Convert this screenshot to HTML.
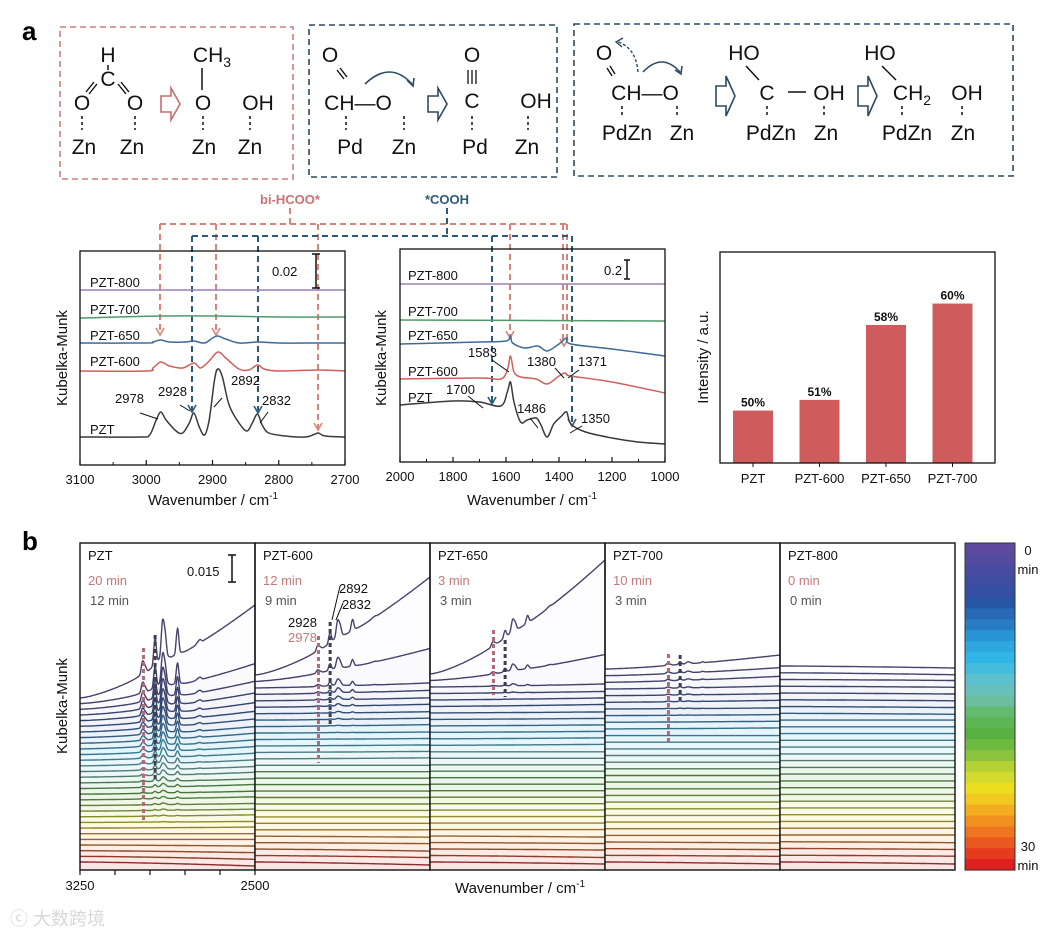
<!DOCTYPE html>
<html><head><meta charset="utf-8"><style>
html,body{margin:0;padding:0;background:#fff;}
svg{display:block;font-family:"Liberation Sans",sans-serif;}
</style></head><body>
<svg id="fig" width="1040" height="939" viewBox="0 0 1040 939" xmlns="http://www.w3.org/2000/svg">
<rect x="0" y="0" width="1040" height="939" fill="#fff"/>
<text x="22" y="40" font-size="26" font-weight="bold">a</text>
<text x="22" y="550" font-size="26" font-weight="bold">b</text>

<!-- Scheme 1 -->
<g font-size="21" text-anchor="middle" fill="#111">
<rect x="60" y="27" width="233" height="152" fill="none" stroke="#c98080" stroke-width="1.6" stroke-dasharray="6,4"/>
<text x="108" y="62">H</text><line x1="108" y1="65" x2="108" y2="70" stroke="#111" stroke-width="1.5"/>
<text x="108" y="86">C</text>
<line x1="86" y1="92" x2="94" y2="82" stroke="#111" stroke-width="1.4"/><line x1="89" y1="94" x2="97" y2="84" stroke="#111" stroke-width="1.4"/>
<line x1="121" y1="82" x2="129" y2="92" stroke="#111" stroke-width="1.4"/><line x1="118" y1="84" x2="126" y2="94" stroke="#111" stroke-width="1.4"/>
<text x="82" y="110">O</text><text x="135" y="110">O</text>
<line x1="82" y1="116" x2="82" y2="130" stroke="#111" stroke-width="1.5" stroke-dasharray="3,3"/>
<line x1="135" y1="116" x2="135" y2="130" stroke="#111" stroke-width="1.5" stroke-dasharray="3,3"/>
<text x="84" y="154">Zn</text><text x="132" y="154">Zn</text>
<path d="M161,96 L171,96 L171,88 L180,104 L171,120 L171,112 L161,112 Z" fill="none" stroke="#c96b6b" stroke-width="1.6"/>
<text x="212" y="62">CH<tspan font-size="14" dy="5">3</tspan></text>
<line x1="202" y1="68" x2="202" y2="90" stroke="#111" stroke-width="1.5"/>
<text x="203" y="110">O</text><text x="258" y="110">OH</text>
<line x1="203" y1="116" x2="203" y2="130" stroke="#111" stroke-width="1.5" stroke-dasharray="3,3"/>
<line x1="250" y1="116" x2="250" y2="130" stroke="#111" stroke-width="1.5" stroke-dasharray="3,3"/>
<text x="204" y="154">Zn</text><text x="250" y="154">Zn</text>
</g>

<!-- Scheme 2 -->
<g font-size="21" text-anchor="middle" fill="#111">
<rect x="309" y="25" width="248" height="152" fill="none" stroke="#2c4a62" stroke-width="1.6" stroke-dasharray="6,4"/>
<text x="330" y="62">O</text>
<line x1="337" y1="70" x2="344" y2="79" stroke="#111" stroke-width="1.4"/><line x1="340" y1="68" x2="347" y2="77" stroke="#111" stroke-width="1.4"/>
<text x="358" y="110">CH—O</text>
<path d="M365,84 Q390,60 412,84" fill="none" stroke="#2c4a62" stroke-width="1.6"/>
<path d="M407,80 L413,86 L414,78" fill="none" stroke="#2c4a62" stroke-width="1.6"/>
<line x1="346" y1="116" x2="346" y2="130" stroke="#111" stroke-width="1.5" stroke-dasharray="3,3"/>
<line x1="404" y1="116" x2="404" y2="130" stroke="#111" stroke-width="1.5" stroke-dasharray="3,3"/>
<text x="350" y="154">Pd</text><text x="404" y="154">Zn</text>
<path d="M428,96 L438,96 L438,88 L447,104 L438,120 L438,112 L428,112 Z" fill="none" stroke="#2c4a62" stroke-width="1.6"/>
<text x="472" y="62">O</text>
<line x1="468" y1="70" x2="468" y2="84" stroke="#111" stroke-width="1.3"/><line x1="472" y1="70" x2="472" y2="84" stroke="#111" stroke-width="1.3"/><line x1="476" y1="70" x2="476" y2="84" stroke="#111" stroke-width="1.3"/>
<text x="472" y="108">C</text>
<line x1="472" y1="116" x2="472" y2="130" stroke="#111" stroke-width="1.5" stroke-dasharray="3,3"/>
<text x="475" y="154">Pd</text>
<text x="536" y="108">OH</text>
<line x1="528" y1="116" x2="528" y2="130" stroke="#111" stroke-width="1.5" stroke-dasharray="3,3"/>
<text x="527" y="154">Zn</text>
</g>

<!-- Scheme 3 -->
<g font-size="21" text-anchor="middle" fill="#111">
<rect x="574" y="24" width="439" height="152" fill="none" stroke="#2c4a62" stroke-width="1.6" stroke-dasharray="6,4"/>
<text x="604" y="60">O</text>
<line x1="607" y1="68" x2="612" y2="76" stroke="#111" stroke-width="1.4"/><line x1="610" y1="66" x2="615" y2="74" stroke="#111" stroke-width="1.4"/>
<text x="645" y="100">CH—O</text>
<path d="M638,72 Q636,48 618,42" fill="none" stroke="#2c4a62" stroke-width="1.4" stroke-dasharray="3,2"/>
<path d="M623,38 L616,42 L622,47" fill="none" stroke="#2c4a62" stroke-width="1.4"/>
<path d="M643,72 Q662,52 680,72" fill="none" stroke="#2c4a62" stroke-width="1.6"/>
<path d="M675,70 L681,74 L682,66" fill="none" stroke="#2c4a62" stroke-width="1.6"/>
<line x1="622" y1="106" x2="622" y2="118" stroke="#111" stroke-width="1.5" stroke-dasharray="3,3"/>
<line x1="677" y1="106" x2="677" y2="118" stroke="#111" stroke-width="1.5" stroke-dasharray="3,3"/>
<text x="627" y="140">PdZn</text><text x="682" y="140">Zn</text>
<path d="M716,86 L726,86 L726,76 L735,96 L726,116 L726,106 L716,106 Z" fill="none" stroke="#2c4a62" stroke-width="1.6"/>
<text x="744" y="60">HO</text>
<line x1="746" y1="66" x2="759" y2="80" stroke="#111" stroke-width="1.5"/>
<text x="767" y="100">C</text>
<line x1="788" y1="92" x2="806" y2="92" stroke="#111" stroke-width="1.5"/>
<text x="829" y="100">OH</text>
<line x1="767" y1="106" x2="767" y2="118" stroke="#111" stroke-width="1.5" stroke-dasharray="3,3"/>
<line x1="824" y1="106" x2="824" y2="118" stroke="#111" stroke-width="1.5" stroke-dasharray="3,3"/>
<text x="771" y="140">PdZn</text><text x="826" y="140">Zn</text>
<path d="M858,86 L868,86 L868,76 L877,96 L868,116 L868,106 L858,106 Z" fill="none" stroke="#2c4a62" stroke-width="1.6"/>
<text x="880" y="60">HO</text>
<line x1="882" y1="66" x2="896" y2="80" stroke="#111" stroke-width="1.5"/>
<text x="912" y="100">CH<tspan font-size="14" dy="5">2</tspan></text>
<text x="967" y="100">OH</text>
<line x1="902" y1="106" x2="902" y2="118" stroke="#111" stroke-width="1.5" stroke-dasharray="3,3"/>
<line x1="962" y1="106" x2="962" y2="118" stroke="#111" stroke-width="1.5" stroke-dasharray="3,3"/>
<text x="907" y="140">PdZn</text><text x="963" y="140">Zn</text>
</g>

<!-- connectors -->
<text x="290" y="204" font-size="13" font-weight="bold" fill="#d07070" text-anchor="middle">bi-HCOO*</text>
<text x="447" y="204" font-size="13" font-weight="bold" fill="#2c5a78" text-anchor="middle">*COOH</text>
<g id="connectors"></g>

<g id="chartA"></g>
<g id="chartB"></g>
<g id="chartC"></g>
<g id="chartD"></g>

<text x="10" y="925" font-size="18" fill="#d8d8d8" font-family="Liberation Sans, Noto Sans CJK SC, sans-serif">ⓒ 大数跨境</text>
</svg>
<script>
// ---------- data: chart A (C-H region) ----------
const seriesA_names = ["PZT-800","PZT-700","PZT-650","PZT-600","PZT"];
const seriesA_pzt800 = [[3100,175],[2700,175]];
const seriesA_pzt700 = [[3100,147],[2978,149],[2892,149],[2800,148],[2700,148]];
const seriesA_pzt650 = [[3100,122],[3000,122],[2990,123],[2978,125],[2965,123],[2940,123],[2928,124],[2912,122],[2900,127],[2892,129],[2880,126],[2860,122],[2832,123],[2800,122],[2740,122],[2700,122]];
const seriesA_pzt600 = [[3100,94],[3000,94],[2990,97],[2978,103],[2965,99],[2945,97],[2928,102],[2918,97],[2905,104],[2892,113],[2880,107],[2860,96],[2845,95],[2832,100],[2822,96],[2800,94],[2740,95],[2700,94]];
const seriesA_pzt = [[3100,28],[3010,28],[2995,30],[2985,45],[2978,53],[2970,45],[2955,34],[2945,32],[2935,42],[2928,52],[2920,38],[2912,30],[2905,45],[2897,85],[2892,96],[2885,88],[2875,60],[2860,42],[2848,34],[2840,42],[2832,51],[2825,40],[2815,32],[2790,29],[2760,28],[2745,31],[2740,32],[2730,29],[2700,28]];
const ticksA = [3100,3000,2900,2800,2700];
const peakLabelsA = ["2978","2928","2892","2832"];

// ---------- data: chart B (fingerprint) ----------
const seriesB_pzt800 = [[2000,178],[1000,178]];
const seriesB_pzt700 = [[2000,142],[1000,141]];
const seriesB_pzt650 = [[2000,118],[1700,120],[1600,121],[1583,126],[1575,119],[1530,114],[1480,116],[1445,111],[1400,118],[1371,124],[1355,118],[1200,113],[1000,106]];
const seriesB_pzt600 = [[2000,83],[1700,84],[1620,83],[1595,92],[1583,106],[1570,90],[1545,85],[1486,83],[1445,78],[1400,86],[1380,89],[1371,88],[1355,86],[1200,80],[1000,69]];
const seriesB_pzt = [[2000,57],[1800,61],[1700,60],[1620,56],[1595,70],[1583,80],[1570,60],[1545,40],[1520,42],[1486,44],[1470,38],[1445,25],[1420,38],[1390,46],[1371,50],[1355,38],[1300,30],[1200,24],[1100,20],[1000,18]];
const ticksB = [2000,1800,1600,1400,1200,1000];

// ---------- data: chart C (bars) ----------
const barCategories = ["PZT","PZT-600","PZT-650","PZT-700"];
const barValues = [50,51,58,60];
const barLabels = ["50%","51%","58%","60%"];

// ---------- data: chart D (time-resolved) ----------
const panelNames = ["PZT","PZT-600","PZT-650","PZT-700","PZT-800"];
const panelRedTimes = ["20 min","12 min","3 min","10 min","0 min"];
const panelBlackTimes = ["12 min","9 min","3 min","3 min","0 min"];
const peakCenters = [2978,2928,2892,2832,2740];
const peaksPZT = [24,30,62,28,6];
const peaks600 = [10,12,28,12,2];
const peaks650 = [8,8,20,8,2];
const peaks700 = [4,3,3,1,0];
const peaks800 = [0,0,0,0,0];
const topPZT = 698, top600 = 675, top650 = 674, top700 = 669, top800 = 666;
const tiltPZT = [93,40,28,22,18,15,13,11,10,9,8,7,6,5,5,4,4,3,3,2,2,2,1,1,0,0,-1,-2,-3,-4];
const tilt600 = [98,33,5,4,3,3,2,2,2,1,1,1,1,1,0,0,0,0,0,0,0,0,0,0,0,-1,-1,-2,-2,-3];
const tilt650 = [114,26,3,2,2,2,1,1,1,1,1,1,0,0,0,0,0,0,0,0,0,0,0,0,0,-1,-1,-1,-2,-2];
const tilt700 = [14,8,6,3,2,2,1,1,1,1,0,0,0,0,0,0,0,0,0,0,0,0,0,0,0,0,-1,-1,-1,-2];
const tilt800 = [-2,-2,-1,-1,-1,-1,-1,-1,0,0,0,0,0,0,0,0,0,0,0,0,0,0,0,0,0,0,-1,-1,-1,-2];
const ampPZT = [1,.8,.7,.62,.55,.5,.45,.4,.35,.3,.26,.22,.18,.15,.12,.1,.08,.06,.05,.04,.03,.02,.01,0,0,0,0,0,0,0];
const amp600 = [1,.6,.35,.25,.18,.12,.08,.05,.03,.02,.01,0,0,0,0,0,0,0,0,0,0,0,0,0,0,0,0,0,0,0];
const amp650 = [1,.5,.15,.05,.02,0,0,0,0,0,0,0,0,0,0,0,0,0,0,0,0,0,0,0,0,0,0,0,0,0];
const amp700 = [1,.8,.6,.5,.4,.3,.2,.1,0,0,0,0,0,0,0,0,0,0,0,0,0,0,0,0,0,0,0,0,0,0];
const amp800 = [0,0,0,0,0,0,0,0,0,0,0,0,0,0,0,0,0,0,0,0,0,0,0,0,0,0,0,0,0,0];
const colorStops = ["#5e4a9c","#4a4ca0","#3b4da0","#2856a8","#2878c0","#2aa0dc","#30b8e8","#5cc0d0","#70c0b0","#60b860","#58b040","#80c040","#c8d830","#f0e020","#f5b020","#f08020","#e85020","#e02020"];

const NS = "http://www.w3.org/2000/svg";
function mk(parent, tag, attrs, text){
  const e = document.createElementNS(NS, tag);
  for (const k in attrs) e.setAttribute(k, attrs[k]);
  if (text !== undefined) e.textContent = text;
  parent.appendChild(e);
  return e;
}
function hex(c){return [parseInt(c.slice(1,3),16),parseInt(c.slice(3,5),16),parseInt(c.slice(5,7),16)];}
function rgb(a){return "rgb("+a.map(v=>Math.round(v)).join(",")+")";}
function mix(a,b,t){return a.map((v,i)=>v*(1-t)+b[i]*t);}
function cmap(f){
  const n = colorStops.length-1; const p=f*n; const i=Math.min(n-1,Math.floor(p)); const t=p-i;
  return mix(hex(colorStops[i]),hex(colorStops[i+1]),t);
}
function smoothPath(pts){
  let d = "M"+pts[0][0].toFixed(1)+","+pts[0][1].toFixed(1);
  for (let i=0;i<pts.length-1;i++){
    const p0=pts[Math.max(0,i-1)],p1=pts[i],p2=pts[i+1],p3=pts[Math.min(pts.length-1,i+2)];
    const c1=[p1[0]+(p2[0]-p0[0])/6,p1[1]+(p2[1]-p0[1])/6];
    const c2=[p2[0]-(p3[0]-p1[0])/6,p2[1]-(p3[1]-p1[1])/6];
    d+=" C"+c1[0].toFixed(1)+","+c1[1].toFixed(1)+" "+c2[0].toFixed(1)+","+c2[1].toFixed(1)+" "+p2[0].toFixed(1)+","+p2[1].toFixed(1);
  }
  return d;
}
function frameAxes(g, x0,y0,x1,y1, ticks, xf, name){
  const r = mk(g,"rect",{x:x0,y:y0,width:x1-x0,height:y1-y0,fill:"none",stroke:"#111","stroke-width":1.3});
  
  
  ticks.forEach((t,i)=>{
    const x = xf(t);
    const tk = mk(g,"line",{x1:x,y1:y1,x2:x,y2:y1-5,stroke:"#111","stroke-width":1.2});
    
    
    const lb = mk(g,"text",{x:x,y:y1+19,"font-size":13,"text-anchor":"middle",fill:"#111"},String(t));
    
    
    if (i<ticks.length-1){
      const xm = xf((t+ticks[i+1])/2);
      const mt = mk(g,"line",{x1:xm,y1:y1,x2:xm,y2:y1-3,stroke:"#111","stroke-width":1});
      
      
    }
  });
}
function axisTitle(g,x,y,name){
  const t = mk(g,"text",{x:x,y:y,"font-size":15,"text-anchor":"middle",fill:"#111"});
  
  
  t.innerHTML = 'Wavenumber / cm<tspan dy="-6" font-size="10">-1</tspan>';
}
function yTitle(g,x,y,txt,name){
  const t = mk(g,"text",{x:x,y:y,"font-size":15,"text-anchor":"middle",fill:"#111",transform:"rotate(-90 "+x+" "+y+")"},txt);
  
  
}

// ---------- chart A ----------
(function(){
  const g = document.getElementById("chartA");
  const xA = w => 80 + (3100-w)/400*265;
  const yA = v => 465 - v;
  const series = [seriesA_pzt800,seriesA_pzt700,seriesA_pzt650,seriesA_pzt600,seriesA_pzt];
  const colors = ["#9b7fb8","#4f9a6a","#3e6a96","#d0605a","#3a3a3a"];
  const labelY = [287,314,340,366,434];
  series.forEach((s,i)=>{
    const p = mk(g,"path",{d:smoothPath(s.map(q=>[xA(q[0]),yA(q[1])])),fill:"none",stroke:colors[i],"stroke-width":1.5});
    
    
    const t = mk(g,"text",{x:90,y:labelY[i],"font-size":13,fill:"#111"},seriesA_names[i]);
    
    
  });
  frameAxes(g,80,251,345,465,ticksA,xA,"chart-a");
  axisTitle(g,213,505,"chart-a-x-title");
  yTitle(g,67,358,"Kubelka-Munk","chart-a-y-title");
  const sb = mk(g,"path",{d:"M316,254 L316,288 M312,254 L320,254 M312,288 L320,288",stroke:"#111","stroke-width":1.5,fill:"none"});
  
  
  const st = mk(g,"text",{x:272,y:276,"font-size":13,fill:"#111"},"0.02");
  
  
  const lbls = [[115,403,"2978",[140,413,158,419]],[158,396,"2928",[180,405,190,411]],[231,385,"2892",[222,398,214,407]],[262,405,"2832",[268,412,260,423]]];
  lbls.forEach((l,i)=>{
    const t = mk(g,"text",{x:l[0],y:l[1],"font-size":13,fill:"#111"},peakLabelsA[i]);
    
    
    const ln = mk(g,"line",{x1:l[3][0],y1:l[3][1],x2:l[3][2],y2:l[3][3],stroke:"#111","stroke-width":1});
    
    
  });
})();

// ---------- chart B ----------
(function(){
  const g = document.getElementById("chartB");
  const xB = w => 400 + (2000-w)/1000*265;
  const yB = v => 462 - v;
  const series = [seriesB_pzt800,seriesB_pzt700,seriesB_pzt650,seriesB_pzt600,seriesB_pzt];
  const colors = ["#9b7fb8","#4f9a6a","#3e6a96","#d0605a","#3a3a3a"];
  const labelY = [280,316,340,376,402];
  series.forEach((s,i)=>{
    const p = mk(g,"path",{d:smoothPath(s.map(q=>[xB(q[0]),yB(q[1])])),fill:"none",stroke:colors[i],"stroke-width":1.5});
    
    
    const t = mk(g,"text",{x:408,y:labelY[i],"font-size":13,fill:"#111"},seriesA_names[i]);
    
    
  });
  frameAxes(g,400,249,665,462,ticksB,xB,"chart-b");
  axisTitle(g,532,505,"chart-b-x-title");
  yTitle(g,386,358,"Kubelka-Munk","chart-b-y-title");
  const sb = mk(g,"path",{d:"M627,260 L627,279 M624,260 L630,260 M624,279 L630,279",stroke:"#111","stroke-width":1.5,fill:"none"});
  
  
  const st = mk(g,"text",{x:604,y:275,"font-size":13,fill:"#111"},"0.2");
  
  
  const lbls = [[468,357,"1583",[492,360,509,372]],[527,366,"1380",[555,368,564,378]],[578,366,"1371",[579,370,568,378]],[446,394,"1700",[468,396,483,408]],[517,413,"1486",[530,418,538,428]],[581,423,"1350",[582,426,570,433]]];
  lbls.forEach(l=>{
    const t = mk(g,"text",{x:l[0],y:l[1],"font-size":13,fill:"#111"},l[2]);
    
    
    const ln = mk(g,"line",{x1:l[3][0],y1:l[3][1],x2:l[3][2],y2:l[3][3],stroke:"#111","stroke-width":1});
    
    
  });
})();

// ---------- connectors ----------
(function(){
  const g = document.getElementById("connectors");
  const red = "#d9837b", blue = "#2c5a78";
  const segs = [
    [red,"M290,208 L290,224 M160,224 L567,224 M160,224 L160,333 M216,224 L216,333 M318,224 L318,428 M510,224 L510,336 M563,224 L563,344 M567,224 L567,344"],
    [blue,"M447,208 L447,236 M192,236 L572,236 M192,236 L192,410 M258,236 L258,411 M492,236 L492,402 M572,236 L572,424"]
  ];
  segs.forEach(s=>{
    const p = mk(g,"path",{d:s[1],fill:"none",stroke:s[0],"stroke-width":2,"stroke-dasharray":"6,4"});
    
    
  });
  const arrows = [[red,160,335],[red,216,335],[red,318,430],[red,510,338],[red,564,346],[blue,192,412],[blue,258,413],[blue,492,404],[blue,572,426]];
  arrows.forEach(a=>{
    const p = mk(g,"path",{d:"M"+(a[1]-4)+","+(a[2]-7)+" L"+a[1]+","+a[2]+" L"+(a[1]+4)+","+(a[2]-7),fill:"none",stroke:a[0],"stroke-width":1.6});
    
    
  });
})();

// ---------- chart C ----------
(function(){
  const g = document.getElementById("chartC");
  const x0=720,x1=995,y0=252,y1=463;
  const band = 66.5;
  const xC = i => x0 + 33 + i*band;
  const yC = v => y1 - (v-45.1)*10.7;
  barValues.forEach((v,i)=>{
    const r = mk(g,"rect",{x:xC(i)-20,y:yC(v),width:40,height:y1-yC(v),fill:"#cf5c5c"});
    
    
    const t = mk(g,"text",{x:xC(i),y:yC(v)-4,"font-size":12,"font-weight":"bold","text-anchor":"middle",fill:"#111"},barLabels[i]);
    
    
    const tk = mk(g,"line",{x1:xC(i),y1:y1,x2:xC(i),y2:y1+4,stroke:"#111","stroke-width":1});
    
    
    const c = mk(g,"text",{x:xC(i),y:y1+20,"font-size":13,"text-anchor":"middle",fill:"#111"},barCategories[i]);
    
    
  });
  const fr = mk(g,"rect",{x:x0,y:y0,width:x1-x0,height:y1-y0,fill:"none",stroke:"#111","stroke-width":1.3});
  
  
  yTitle(g,708,357,"Intensity / a.u.","chart-c-y-title");
})();

// ---------- chart D ----------
(function(){
  const g = document.getElementById("chartD");
  const top=543,bottom=870,lastY=862;
  const panelX = [80,255,430,605,780,955];
  const tops=[topPZT,top600,top650,top700,top800];
  const tilts=[tiltPZT,tilt600,tilt650,tilt700,tilt800];
  const amps=[ampPZT,amp600,amp650,amp700,amp800];
  const peaks=[peaksPZT,peaks600,peaks650,peaks700,peaks800];
  const N = 30;
  const redDot = [[648,820],[636,763],[630,695],[654,745],null];
  const blkDot = [[635,780],[622,727],[640,697],[655,700],null];
  for (let p=0;p<5;p++){
    const px0=panelX[p], px1=panelX[p+1];
    const xD = w => px0 + (3250-w)/750*(px1-px0);
    const clip = mk(g,"clipPath",{id:"clip"+p});
    mk(clip,"rect",{x:px0,y:top,width:px1-px0,height:bottom-top});
    const pg = mk(g,"g",{"clip-path":"url(#clip"+p+")"});
    
    
    for (let i=0;i<N;i++){
      const base = tops[p] + i*(lastY-tops[p])/(N-1);
      const pts=[];
      for (let k=0;k<=70;k++){
        const w = 3250 - k*750/70;
        const t = k/70;
        let y = base - tilts[p][i]*Math.pow(t,1.4);
        peakCenters.forEach((c,j)=>{
          const wd = j===2?7:5;
          y -= amps[p][i]*peaks[p][j]/(1+((w-c)/wd)*((w-c)/wd));
        });
        pts.push([xD(w),y]);
      }
      const f01 = i/(N-1);
      const col = cmap(f01);
      const whiteMix = f01 < 0.3 ? 0.985 - 0.1*(f01/0.3) : 0.88;
      const fill = rgb(mix(col,[255,255,255],whiteMix));
      const stroke = rgb(mix(col,[55,55,55],0.5));
      const d = smoothPath(pts);
      const f = mk(pg,"path",{d:d+" L"+px1+","+bottom+" L"+px0+","+bottom+" Z",fill:fill,stroke:"none"});
      
      
      const l = mk(pg,"path",{d:d,fill:"none",stroke:stroke,"stroke-width":1.4});
      
      
    }
    if (redDot[p]){
      const r = mk(g,"line",{x1:xD(2978),y1:redDot[p][0],x2:xD(2978),y2:redDot[p][1],stroke:"#b06a78","stroke-width":3,"stroke-dasharray":"4,3"});
      
      
      const b = mk(g,"line",{x1:xD(2928),y1:blkDot[p][0],x2:xD(2928),y2:blkDot[p][1],stroke:"#3a3f55","stroke-width":3,"stroke-dasharray":"4,3"});
      
      
    }
    const fr = mk(g,"rect",{x:px0,y:top,width:px1-px0,height:bottom-top,fill:"none",stroke:"#111","stroke-width":1.4});
    
    
    const nm = mk(g,"text",{x:px0+8,y:top+17,"font-size":13,fill:"#111"},panelNames[p]);
    
    
    const rt = mk(g,"text",{x:px0+8,y:top+42,"font-size":13,fill:"#c87878"},panelRedTimes[p]);
    
    
    const bt = mk(g,"text",{x:px0+10,y:top+62,"font-size":13,fill:"#555"},panelBlackTimes[p]);
    
    
  }
  const xt = [3250,3100,2950,2800,2650,2500];
  xt.forEach((w,i)=>{
    const x = 80 + (3250-w)/750*175;
    const tk = mk(g,"line",{x1:x,y1:bottom,x2:x,y2:bottom+5,stroke:"#111","stroke-width":1.2});
    
    
    if (i===0 || i===xt.length-1){
      const lb = mk(g,"text",{x:x,y:bottom+20,"font-size":13,"text-anchor":"middle",fill:"#111"},String(w));
      
      
    }
  });
  axisTitle(g,520,893,"chart-d-x-title");
  yTitle(g,67,706,"Kubelka-Munk","chart-d-y-title");
  const sb = mk(g,"path",{d:"M232,555 L232,582 M228,555 L236,555 M228,582 L236,582",stroke:"#111","stroke-width":1.5,fill:"none"});
  
  
  const st = mk(g,"text",{x:187,y:576,"font-size":13,fill:"#111"},"0.015");
  
  
  const pl = [[288,627,"2928","#111"],[288,642,"2978","#c87878"],[339,593,"2892","#111"],[342,609,"2832","#111"]];
  pl.forEach(l=>{
    const t = mk(g,"text",{x:l[0],y:l[1],"font-size":13,fill:l[3]},l[2]);
    
    
  });
  const ld = mk(g,"path",{d:"M340,586 L332,620 M343,603 L336,620",stroke:"#111","stroke-width":1,fill:"none"});
  
  
  const cbN = 30, cx=965, cw=50;
  for (let i=0;i<cbN;i++){
    const r = mk(g,"rect",{x:cx,y:top+i*(bottom-top)/cbN,width:cw,height:(bottom-top)/cbN+0.6,fill:rgb(cmap(i/(cbN-1)))});
    
    
  }
  const cf = mk(g,"rect",{x:cx,y:top,width:cw,height:bottom-top,fill:"none",stroke:"#333","stroke-width":1});
  
  
  [["0",555],["min",574],["30",851],["min",870]].forEach(l=>{
    const t = mk(g,"text",{x:1028,y:l[1],"font-size":13,"text-anchor":"middle",fill:"#111"},l[0]);
    
    
  });
})();
</script>
</body></html>
